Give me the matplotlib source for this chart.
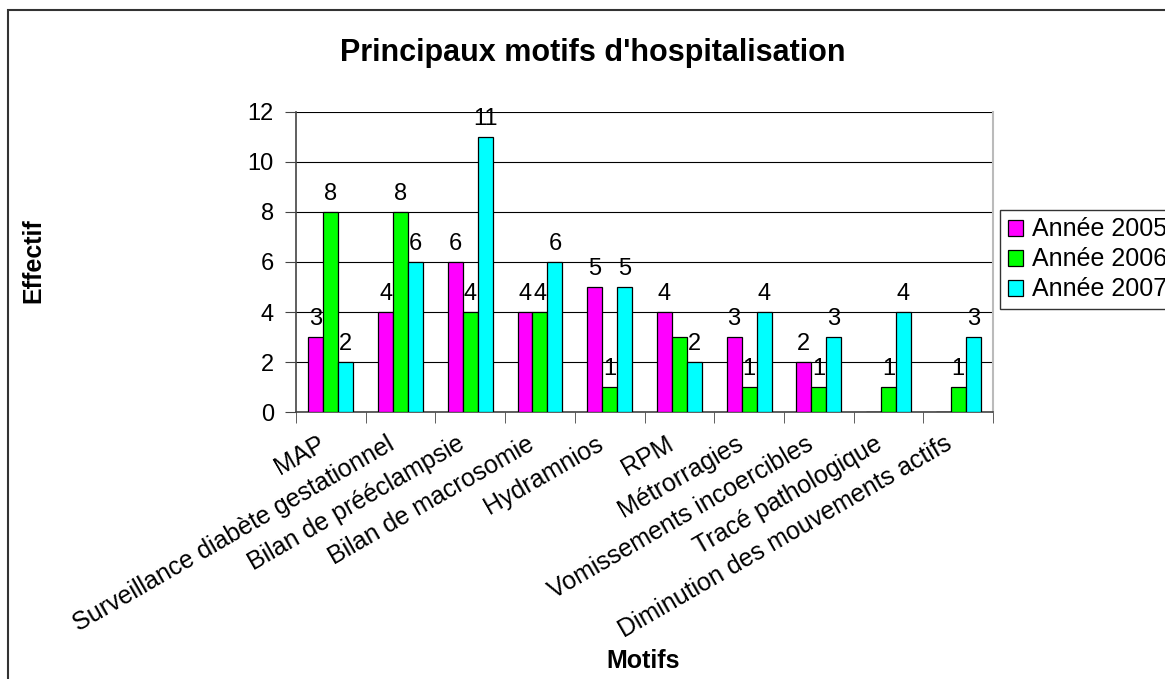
import numpy as np
import matplotlib
matplotlib.use("Agg")
import matplotlib.pyplot as plt
from matplotlib.patches import Rectangle
from matplotlib.transforms import ScaledTranslation

plt.rcParams["font.family"] = ["Liberation Sans", "DejaVu Sans"]

categories = [
    "MAP",
    "Surveillance diabète gestationnel",
    "Bilan de prééclampsie",
    "Bilan de macrosomie",
    "Hydramnios",
    "RPM",
    "Métrorragies",
    "Vomissements incoercibles",
    "Tracé pathologique",
    "Diminution des mouvements actifs",
]
series_names = ["Année 2005", "Année 2006", "Année 2007"]
annee_2005 = [3, 4, 6, 4, 5, 4, 3, 2, 0, 0]
annee_2006 = [8, 8, 4, 4, 1, 3, 1, 1, 1, 1]
annee_2007 = [2, 6, 11, 6, 5, 2, 4, 3, 4, 3]
colors = ["#FF00FF", "#00FF00", "#00FFFF"]
# label not shown in the original (series index, category index)
hidden_labels = [(1, 5)]

fig = plt.figure(figsize=(11.65, 6.79), dpi=100)
ax = fig.add_axes([0.2541, 0.3932, 0.5983, 0.4419])

x = np.arange(len(categories))
width = 0.215
all_series = [annee_2005, annee_2006, annee_2007]
bars = []
for i, (vals, col, name) in enumerate(zip(all_series, colors, series_names)):
    b = ax.bar(x + (i - 1) * width, vals, width, color=col, edgecolor="black",
               linewidth=0.9, label=name, zorder=3)
    bars.append(b)
    for j, v in enumerate(vals):
        if v == 0 or (i, j) in hidden_labels:
            continue
        ax.annotate(str(v), (x[j] + (i - 1) * width, v), xytext=(0, 5),
                    textcoords="offset points", ha="center", va="bottom",
                    fontsize=17, zorder=4)

ax.set_xlim(-0.5, len(categories) - 0.5)
ax.set_ylim(0, 12)
ax.set_yticks(range(0, 13, 2))
ax.yaxis.grid(True, color="black", linewidth=0.8, zorder=0)

# category labels drawn as rotated texts, right end just left of the centre
ax.set_xticks(x)
ax.set_xticklabels([])
ax.tick_params(axis="x", which="major", length=0)
label_tr = ax.get_xaxis_transform() + ScaledTranslation(-0.08, -0.30,
                                                          fig.dpi_scale_trans)
for j, cat in enumerate(categories):
    ax.text(x[j], 0, cat, transform=label_tr, rotation=30, ha="right",
            va="center", rotation_mode="anchor", fontsize=18, clip_on=False)

ax.set_xticks(np.arange(-0.5, len(categories)), minor=True)
ax.tick_params(axis="x", which="minor", length=8, color="#444444")
ax.tick_params(axis="y", length=8, color="#444444", labelsize=17, pad=8)

for side in ["left", "bottom"]:
    ax.spines[side].set_color("#444444")
    ax.spines[side].set_linewidth(1.2)
ax.spines["top"].set_visible(False)
ax.spines["right"].set_color("#BBBBBB")
ax.spines["right"].set_linewidth(1.5)

fig.text(0.509, 0.922, "Principaux motifs d'hospitalisation", ha="center",
         va="center", fontsize=22, fontweight="bold")
fig.text(0.029, 0.616, "Effectif", rotation=90, ha="center", va="center",
         fontsize=18, fontweight="bold")
fig.text(0.552, 0.027, "Motifs", ha="center", va="center", fontsize=18,
         fontweight="bold")

leg = fig.legend(handles=bars, labels=series_names, loc="lower left",
                 bbox_to_anchor=(1000 / 1165, 1 - 309 / 679), fontsize=18,
                 frameon=True, fancybox=False, edgecolor="black",
                 handlelength=0.6, handleheight=0.6, handletextpad=0.36,
                 labelspacing=0.24, borderpad=0.3, borderaxespad=0)
leg.get_frame().set_linewidth(1.0)

fig.patches.append(Rectangle((8 / 1165, -0.1), 1.2, 1 - 10 / 679 + 0.1,
                             transform=fig.transFigure, fill=False,
                             edgecolor="#333333", linewidth=1.5))

fig.savefig("out.png", dpi=100)
